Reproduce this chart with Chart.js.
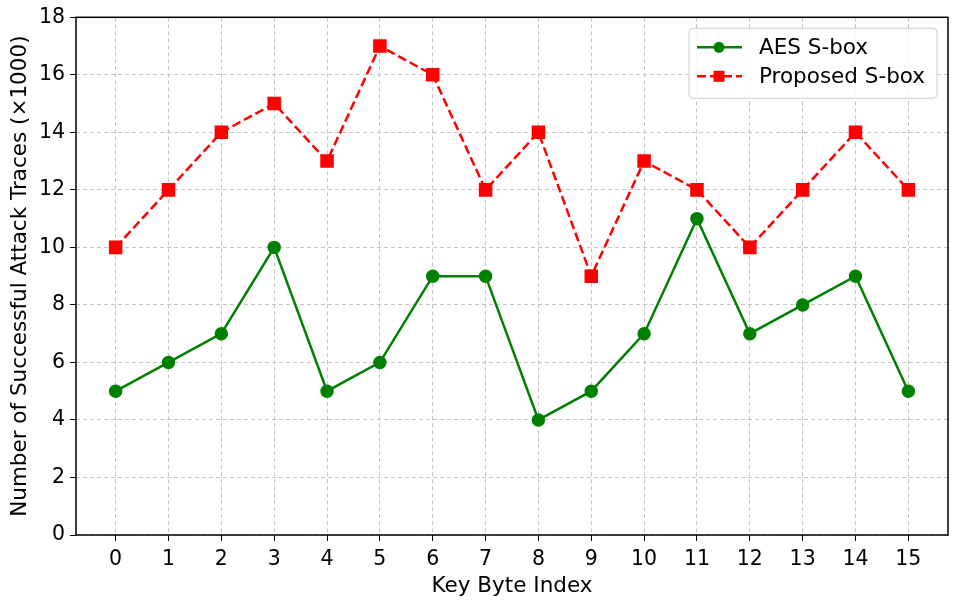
<!DOCTYPE html>
<html>
<head>
<meta charset="utf-8">
<script src="https://cdn.jsdelivr.net/npm/chart.js@4"></script>
<style>
  html, body { margin: 0; padding: 0; background: #fff; }
  #wrap { width: 960px; height: 603px; }
</style>
</head>
<body>
<div id="wrap"><canvas id="chart" width="960" height="603"></canvas></div>
<script>
const keyBytes = [0, 1, 2, 3, 4, 5, 6, 7, 8, 9, 10, 11, 12, 13, 14, 15];
const aesSbox = [5, 6, 7, 10, 5, 6, 9, 9, 4, 5, 7, 11, 7, 8, 9, 5];
const proposedSbox = [10, 12, 14, 15, 13, 17, 16, 12, 14, 9, 13, 12, 10, 12, 14, 12];

const FONT = "'DejaVu Sans', sans-serif";

// frame + legend inside the plot, like matplotlib
const framePlugin = {
    id: 'frame',
    afterDraw(chart) {
        const ctx = chart.ctx;
        const a = chart.chartArea;
        ctx.save();
        ctx.strokeStyle = '#000';
        ctx.lineWidth = 1.5;
        ctx.strokeRect(a.left, a.top, a.right - a.left, a.bottom - a.top);

        // legend
        const bx = a.right - 259, by = a.top + 11, bw = 248, bh = 70;
        ctx.fillStyle = 'rgba(255,255,255,0.85)';
        ctx.strokeStyle = '#cccccc';
        ctx.lineWidth = 1;
        ctx.beginPath();
        ctx.roundRect(bx, by, bw, bh, 4);
        ctx.fill();
        ctx.stroke();

        const items = chart.data.datasets;
        items.forEach((ds, i) => {
            const y = by + 19 + i * 29;
            ctx.strokeStyle = ds.borderColor;
            ctx.lineWidth = 2.5;
            ctx.setLineDash(ds.borderDash || []);
            ctx.beginPath();
            ctx.moveTo(bx + 8, y);
            ctx.lineTo(bx + 53, y);
            ctx.stroke();
            ctx.setLineDash([]);
            ctx.fillStyle = ds.backgroundColor;
            if (ds.pointStyle === 'rect') {
                ctx.fillRect(bx + 30 - 5.5, y - 5.5, 11, 11);
            } else {
                ctx.beginPath();
                ctx.arc(bx + 30, y, 5.5, 0, Math.PI * 2);
                ctx.fill();
            }
            ctx.fillStyle = '#000';
            ctx.font = '21.5px ' + FONT;
            ctx.textBaseline = 'middle';
            ctx.fillText(ds.label, bx + 70, y + 1);
        });
        ctx.restore();
    }
};

new Chart(document.getElementById('chart').getContext('2d'), {
    type: 'line',
    data: {
        datasets: [{
            label: 'AES S-box',
            data: keyBytes.map((k, i) => ({ x: k, y: aesSbox[i] })),
            borderColor: '#008000',
            backgroundColor: '#008000',
            borderWidth: 2.5,
            pointStyle: 'circle',
            pointRadius: 5.5,
            pointHoverRadius: 5.5,
            tension: 0
        }, {
            label: 'Proposed S-box',
            data: keyBytes.map((k, i) => ({ x: k, y: proposedSbox[i] })),
            borderColor: '#ff0000',
            backgroundColor: '#ff0000',
            borderWidth: 2.5,
            borderDash: [9, 4],
            pointStyle: 'rect',
            pointRadius: 7.8,
            pointHoverRadius: 7.8,
            tension: 0
        }]
    },
    options: {
        responsive: false,
        animation: false,
        layout: { padding: { top: 16, right: 12, left: 4, bottom: 0 } },
        plugins: { legend: { display: false }, tooltip: { enabled: false } },
        scales: {
            x: {
                type: 'linear',
                min: -0.75,
                max: 15.75,
                ticks: { stepSize: 1, color: '#000', font: { family: FONT, size: 20.5 }, padding: 6, maxRotation: 0, autoSkip: false },
                afterBuildTicks(scale) {
                    scale.ticks = keyBytes.map(v => ({ value: v }));
                },
                afterFit(scale) { scale.height = 68; },
                grid: { color: '#c4c4c4', tickColor: '#000', tickLength: 6, tickBorderDash: [], drawTicks: true },
                border: { display: false, dash: [4, 3] },
                title: { display: true, text: 'Key Byte Index', color: '#000', font: { family: FONT, size: 21.5 }, padding: { top: 0 } }
            },
            y: {
                min: 0,
                max: 18,
                ticks: { stepSize: 2, color: '#000', font: { family: FONT, size: 20.5 }, padding: 5 },
                afterFit(scale) { scale.width = 72; },
                grid: { color: '#c4c4c4', tickColor: '#000', tickLength: 6, tickBorderDash: [] },
                border: { display: false, dash: [4, 3] },
                title: { display: true, text: 'Number of Successful Attack Traces (×1000)', color: '#000', font: { family: FONT, size: 21.5 }, padding: { bottom: 0 } }
            }
        }
    },
    plugins: [framePlugin]
});
</script>
</body>
</html>
